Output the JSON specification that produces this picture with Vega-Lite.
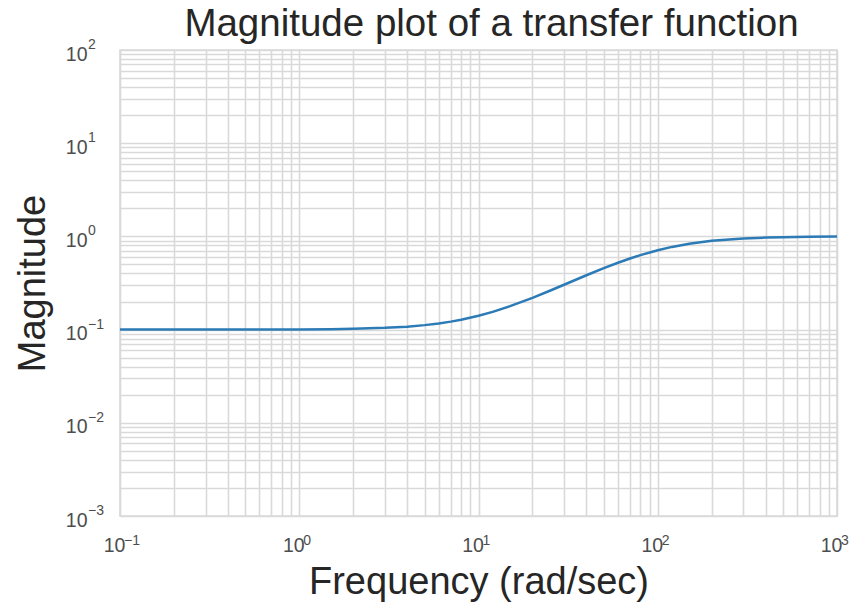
{
  "$schema": "https://vega.github.io/schema/vega-lite/v6.json",
  "width": 717,
  "height": 466,
  "autosize": {"type": "none"},
  "padding": {"left": 120, "top": 50, "right": 16, "bottom": 93},
  "background": "white",
  "title": {"text": "Magnitude plot of a transfer function", "fontSize": 38.5, "font": "Liberation Sans", "fontWeight": "normal", "color": "#262626", "offset": -6, "anchor": "middle", "dx": 13},
  "config": {
    "view": {"stroke": "#d9d9d9", "strokeWidth": 1.6},
    "axis": {
      "grid": true,
      "gridColor": "#d9d9d9",
      "gridWidth": 1.6,
      "gridOpacity": 1,
      "domain": false,
      "ticks": false,
      "labelFont": "Liberation Sans",
      "labelFontSize": 19.5,
      "labelColor": "#4d4d4d",
      "labelOverlap": false,
      "labelBound": false,
      "labelFlush": false,
      "titleFont": "Liberation Sans",
      "titleFontSize": 38,
      "titleFontWeight": "normal",
      "titleColor": "#262626"
    }
  },
  "layer": [
    {
      "data": {
        "values": [
          {"w": 0.1, "mag": 0.1000},
          {"w": 0.2, "mag": 0.1000},
          {"w": 0.3, "mag": 0.1000},
          {"w": 0.5, "mag": 0.1001},
          {"w": 0.7, "mag": 0.1002},
          {"w": 1, "mag": 0.1005},
          {"w": 1.5, "mag": 0.1011},
          {"w": 2, "mag": 0.1020},
          {"w": 3, "mag": 0.1044},
          {"w": 4, "mag": 0.1076},
          {"w": 5, "mag": 0.1117},
          {"w": 6, "mag": 0.1164},
          {"w": 7, "mag": 0.1218},
          {"w": 8, "mag": 0.1277},
          {"w": 10, "mag": 0.1407},
          {"w": 12, "mag": 0.1551},
          {"w": 15, "mag": 0.1783},
          {"w": 20, "mag": 0.2193},
          {"w": 25, "mag": 0.2612},
          {"w": 30, "mag": 0.3029},
          {"w": 40, "mag": 0.3828},
          {"w": 50, "mag": 0.4561},
          {"w": 60, "mag": 0.5216},
          {"w": 70, "mag": 0.5793},
          {"w": 80, "mag": 0.6296},
          {"w": 100, "mag": 0.7106},
          {"w": 120, "mag": 0.7716},
          {"w": 150, "mag": 0.8339},
          {"w": 200, "mag": 0.8955},
          {"w": 300, "mag": 0.9492},
          {"w": 400, "mag": 0.9705},
          {"w": 500, "mag": 0.9808},
          {"w": 700, "mag": 0.9901},
          {"w": 1000, "mag": 0.9951}
        ]
      },
      "mark": {"type": "line", "color": "#2c7bb6", "strokeWidth": 2.5, "clip": true},
      "encoding": {
        "x": {
          "field": "w",
          "type": "quantitative",
          "title": "Frequency (rad/sec)",
          "scale": {"type": "log", "domain": [0.1, 1000], "nice": false},
          "axis": {
            "values": [0.1, 0.2, 0.3, 0.4, 0.5, 0.6, 0.7, 0.8, 0.9, 1, 2, 3, 4, 5, 6, 7, 8, 9, 10, 20, 30, 40, 50, 60, 70, 80, 90, 100, 200, 300, 400, 500, 600, 700, 800, 900, 1000],
            "labelExpr": "datum.value == 0.1 || datum.value == 1 || datum.value == 10 || datum.value == 100 || datum.value == 1000 ? '10' : ''",
            "labelPadding": 20,
            "labelOffset": -6,
            "titlePadding": 9
          }
        },
        "y": {
          "field": "mag",
          "type": "quantitative",
          "title": "Magnitude",
          "scale": {"type": "log", "domain": [0.001, 100], "nice": false},
          "axis": {
            "values": [0.001, 0.002, 0.003, 0.004, 0.005, 0.006, 0.007, 0.008, 0.009, 0.01, 0.02, 0.03, 0.04, 0.05, 0.06, 0.07, 0.08, 0.09, 0.1, 0.2, 0.3, 0.4, 0.5, 0.6, 0.7, 0.8, 0.9, 1, 2, 3, 4, 5, 6, 7, 8, 9, 10, 20, 30, 40, 50, 60, 70, 80, 90, 100],
            "labelExpr": "datum.value == 0.001 || datum.value == 0.01 || datum.value == 0.1 || datum.value == 1 || datum.value == 10 || datum.value == 100 ? '10' : ''",
            "labelPadding": 33,
            "labelOffset": 4,
            "titlePadding": 13
          }
        }
      }
    },
    {
      "data": {
        "values": [
          {"w": 0.1, "exp": "−1"},
          {"w": 1, "exp": "0"},
          {"w": 10, "exp": "1"},
          {"w": 100, "exp": "2"},
          {"w": 1000, "exp": "3"}
        ]
      },
      "mark": {"type": "text", "font": "Liberation Sans", "fontSize": 14, "color": "#4d4d4d", "align": "left", "baseline": "alphabetic", "dx": 4, "dy": 29},
      "encoding": {
        "x": {"field": "w", "type": "quantitative", "title": "Frequency (rad/sec)"},
        "y": {"datum": 0.001, "type": "quantitative"},
        "text": {"field": "exp"}
      }
    },
    {
      "data": {
        "values": [
          {"mag": 0.001, "exp": "−3"},
          {"mag": 0.01, "exp": "−2"},
          {"mag": 0.1, "exp": "−1"},
          {"mag": 1, "exp": "0"},
          {"mag": 10, "exp": "1"},
          {"mag": 100, "exp": "2"}
        ]
      },
      "mark": {"type": "text", "font": "Liberation Sans", "fontSize": 14, "color": "#4d4d4d", "align": "left", "baseline": "alphabetic", "dx": -32, "dy": -1},
      "encoding": {
        "y": {"field": "mag", "type": "quantitative", "title": "Magnitude"},
        "x": {"datum": 0.1, "type": "quantitative"},
        "text": {"field": "exp"}
      }
    }
  ]
}
